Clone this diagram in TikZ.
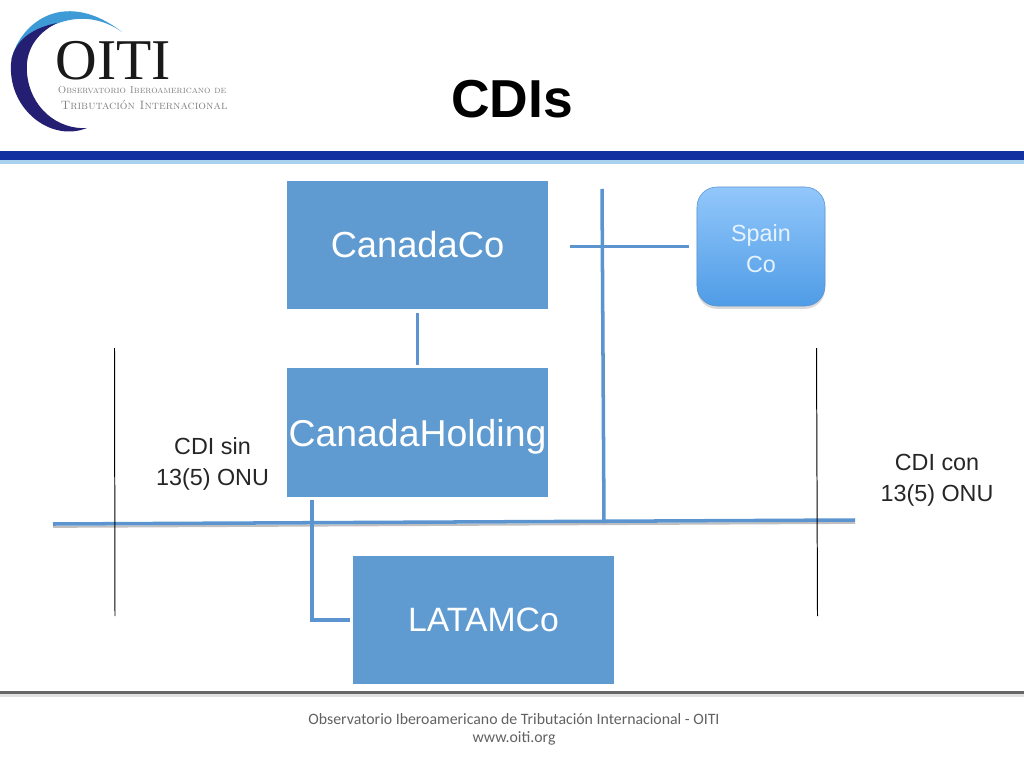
\documentclass[tikz,border=0pt]{standalone}
\usepackage{fontspec}
\setsansfont{Liberation Sans}
\newfontfamily\logofont{Liberation Serif}
\newfontfamily\footfont{Carlito}
\usetikzlibrary{shadows}
\definecolor{boxblue}{HTML}{5F9BD1}
\definecolor{linkblue}{HTML}{5B94CF}
\definecolor{barblue}{HTML}{12309F}
\definecolor{skyblue}{HTML}{3E9BD6}
\definecolor{navyblue}{HTML}{241F73}
\definecolor{spaintop}{HTML}{92C7FB}
\definecolor{spainbottom}{HTML}{4F9CE6}
\definecolor{spaintext}{HTML}{E6F3FF}
\tikzset{
  entity/.style={fill=boxblue,text=white,font=\sffamily\fontsize{25.8}{30}\selectfont,minimum width=6.525cm,minimum height=3.2cm,inner sep=0pt},
  link/.style={linkblue,line width=2.5pt},
  note/.style={align=center,font=\sffamily\fontsize{16.6}{22}\selectfont,text=black!85},
  treaty/.style={black,line width=0.7pt},
  logotext/.style={inner sep=0pt,black!50},
}
\begin{document}
\begin{tikzpicture}[x=0.025cm,y=-0.025cm]
\useasboundingbox (0,0) rectangle (1024,768);
%logo
\fill[skyblue] (11,60) .. controls (22,18) and (68,-10) .. (122,32) .. controls (85,6) and (42,20) .. (11,60) -- cycle;
\fill[navyblue] (57,23) .. controls (22,30) and (9,50) .. (11,72) .. controls (13,112) and (52,142) .. (87,128) .. controls (58,130) and (30,108) .. (27,73) .. controls (25,52) and (35,34) .. (57,23) -- cycle;
\node[inner sep=0pt,font=\logofont\fontsize{41}{41}\selectfont,black!90] (oiti) at (113.5,61) {OITI};
\node[logotext,font=\fontsize{7.15}{9}\selectfont\scshape] (obs) at (142,90.5) {Observatorio Iberoamericano de};
\node[logotext,font=\fontsize{8.6}{9}\selectfont\scshape] (trib) at (144,105) {Tributación Internacional};
%header bar and footer rule
\fill[barblue] (0,151) rectangle (1024,160);
\fill[skyblue!45] (0,160) rectangle (1024,164);
\fill[black!12] (0,693) rectangle (1024,697);
\fill[black!60] (0,691) rectangle (1024,694);
\node[font=\sffamily\bfseries\fontsize{38}{40}\selectfont] (title) at (512,99) {CDIs};
%boxes
\node[entity] (canadaco) at (417.5,245) {CanadaCo};
\node[entity,text depth=0pt,font=\sffamily\fontsize{26.6}{30}\selectfont] (holding) at (417.5,432.5) {CanadaHolding};
\node[entity,font=\sffamily\fontsize{24}{30}\selectfont] (latamco) at (483.5,620) {LATAMCo};
\node[draw=linkblue,rounded corners=0.5cm,top color=spaintop,bottom color=spainbottom,minimum width=3.2cm,minimum height=2.975cm,inner sep=0pt,align=center,text=spaintext,font=\sffamily\fontsize{16.6}{22}\selectfont,drop shadow={opacity=0.3,shadow xshift=0pt,shadow yshift=-2pt}] (spain) at (761,246.5) {\rule{0pt}{15.6pt}Spain\\Co};
%free ends
\coordinate (sep top) at (602,189);
\coordinate (sep bottom) at (604,523);
\coordinate (border left) at (53,524);
\coordinate (border right) at (855,520);
\coordinate (holding foot) at (312,500);
\coordinate (sin top) at (114.5,348);
\coordinate (sin bottom) at (115,616);
\coordinate (con top) at (816.5,348);
\coordinate (con bottom) at (817.5,616);
%connectors
\draw[black!25,line width=1.5pt] ([yshift=-2pt]border left) -- ([yshift=-2pt]border right);
\draw[link,shorten <=2.9pt,shorten >=2.1pt] (canadaco.south) -- (holding.north);
\draw[link,shorten <=15.5pt,shorten >=5.5pt] (canadaco.east |- spain.west) -- (spain.west);
\draw[link] (sep top) -- (sep bottom);
\draw[link] (border left) -- (border right);
\draw[link,shorten >=2pt] (holding foot) |- (latamco.west);
\draw[treaty] (sin top) -- (sin bottom);
\draw[treaty] (con top) -- (con bottom);
%labels
\node[note] (sin) at (212.5,464) {CDI sin\\13(5) ONU};
\node[note] (con) at (937,480) {CDI con\\13(5) ONU};
\node[font=\footfont\fontsize{11.25}{13}\selectfont,align=center,black!62] (foot) at (514,729) {Observatorio Iberoamericano de Tributación Internacional - OITI\\www.oiti.org};
\end{tikzpicture}
\end{document}
